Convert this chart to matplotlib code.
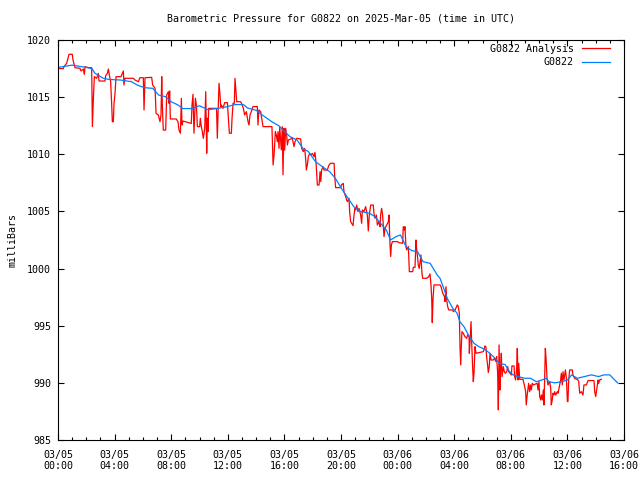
import matplotlib
matplotlib.use('Agg')
import matplotlib.pyplot as plt
from matplotlib.ticker import MultipleLocator

# hours since 2025-03-05 00:00 UTC, pressure in mb
blue_hours = [0.0, 0.5, 1.0, 1.5, 2.0, 2.4, 2.6, 3.2, 3.6, 4.4, 5.2, 5.6, 6.1, 6.7, 7.1,
              7.6, 8.0, 8.5, 8.8, 9.5, 10.0, 10.6, 11.2, 11.9, 12.5, 13.1, 13.4, 14.0,
              14.5, 15.1, 15.6, 16.0, 16.4, 16.9, 17.3, 17.7, 18.2, 18.7, 19.2, 19.6,
              20.1, 20.5, 20.9, 21.4, 22.0, 22.4, 22.8, 23.2, 23.5, 23.9, 24.2, 24.6,
              25.0, 25.4, 25.6, 25.8, 26.3, 26.8, 27.0, 27.3, 27.5, 27.9, 28.2, 28.4,
              28.7, 29.0, 29.4, 29.7, 30.2, 30.5, 30.9, 31.2, 31.6, 31.9, 32.15, 32.5,
              33.0, 33.4, 33.8, 34.2, 34.5, 34.7, 35.1, 35.6, 36.0, 36.3, 36.7, 37.2,
              37.7, 38.2, 38.6, 39.0, 39.3, 39.55]
blue_mb = [1017.6, 1017.7, 1017.8, 1017.7, 1017.6, 1017.5, 1017.1, 1016.65, 1016.55,
           1016.5, 1016.35, 1016.06, 1015.83, 1015.77, 1015.19, 1015.04, 1014.6, 1014.3,
           1014.0, 1014.0, 1014.25, 1013.9, 1014.0, 1014.15, 1014.35, 1014.35, 1014.05,
           1013.85, 1013.38, 1012.86, 1012.5, 1012.0, 1011.54, 1011.25, 1010.52, 1010.23,
           1009.35, 1008.9, 1008.48, 1007.9, 1006.88, 1006.15, 1005.42, 1004.98, 1004.85,
           1004.54, 1003.96, 1003.38, 1002.5, 1002.8, 1002.94, 1001.92, 1001.57, 1001.5,
           1001.04, 1000.6, 1000.46, 999.44, 999.15, 998.13, 997.4, 996.53, 996.1, 995.35,
           994.9, 994.2, 993.46, 993.2, 992.9, 992.6, 992.15, 991.7, 991.6, 991.0, 990.7,
           990.55, 990.4, 990.4, 990.1, 990.25, 990.4, 990.1, 990.0, 990.1, 990.25, 990.7,
           990.4, 990.55, 990.7, 990.55, 990.7, 990.7, 990.3, 990.0]

red_hours = [
    0.0, 0.38, 0.42, 0.61, 0.78, 1.01, 1.06, 1.2, 1.55, 1.63, 1.79, 1.86, 1.91, 2.14, 2.38,
    2.43, 2.5, 2.57, 2.73, 2.85, 2.9, 3.32, 3.37, 3.49, 3.56, 3.63, 3.72, 3.79, 3.84, 3.91,
    3.96, 4.03, 4.1, 4.45, 4.55, 4.62, 4.66, 4.73, 5.32, 5.44, 5.68, 5.79, 6.03, 6.08, 6.15,
    6.62, 6.69, 6.86, 6.93, 7.09, 7.21, 7.28, 7.33, 7.37, 7.44, 7.61, 7.68, 7.8, 7.85, 7.89,
    7.94, 8.36, 8.48, 8.55, 8.65, 8.72, 8.76, 8.83, 9.42, 9.47, 9.54, 9.61, 9.71, 9.78, 9.85,
    10.01, 10.06, 10.13, 10.2, 10.27, 10.37, 10.44, 10.51, 10.55, 10.6, 10.65, 11.19, 11.21,
    11.26, 11.31, 11.38, 11.45, 11.5, 11.55, 11.66, 11.78, 11.97, 12.04, 12.11, 12.25, 12.3,
    12.37, 12.46, 12.51, 12.56, 12.63, 12.91, 13.0, 13.1, 13.19, 13.31, 13.43, 13.5, 13.57,
    13.66, 13.78, 14.09, 14.13, 14.2, 14.32, 14.49, 15.12, 15.2, 15.27, 15.36, 15.43, 15.5,
    15.55, 15.62, 15.67, 15.78, 15.85, 15.9, 15.97, 16.02, 16.09, 16.16, 16.21, 16.28, 16.56,
    16.61, 16.68, 16.75, 16.87, 17.15, 17.22, 17.33, 17.43, 17.5, 17.55, 17.62, 17.69, 17.79,
    17.86, 17.98, 18.09, 18.16, 18.23, 18.28, 18.33, 18.45, 18.52, 18.57, 18.63, 18.73, 18.8,
    19.03, 19.15, 19.27, 19.51, 19.55, 19.62, 19.98, 20.02, 20.16, 20.21, 20.33, 20.4, 20.45,
    20.57, 20.61, 20.68, 20.85, 20.92, 20.99, 21.04, 21.11, 21.2, 21.27, 21.39, 21.46, 21.51,
    21.62, 21.74, 21.86, 21.93, 22.0, 22.1, 22.28, 22.33, 22.4, 22.5, 22.57, 22.69, 22.76,
    22.8, 22.87, 22.94, 23.04, 23.11, 23.23, 23.35, 23.39, 23.46, 23.51, 23.56, 23.63, 23.98,
    24.1, 24.36, 24.4, 24.48, 24.52, 24.59, 24.64, 24.76, 24.83, 25.07, 25.11, 25.23, 25.3,
    25.35, 25.42, 25.46, 25.53, 25.58, 25.65, 25.72, 25.77, 26.05, 26.2, 26.29, 26.36, 26.41,
    26.45, 26.5, 26.57, 27.0, 27.07, 27.19, 27.31, 27.35, 27.42, 27.47, 27.54, 27.61, 27.89,
    27.94, 28.06, 28.17, 28.22, 28.29, 28.36, 28.41, 28.46, 28.5, 28.55, 28.64, 28.76, 28.88,
    28.95, 29.05, 29.07, 29.12, 29.19, 29.23, 29.3, 29.35, 29.4, 29.47, 29.54, 30.06, 30.1,
    30.17, 30.24, 30.29, 30.36, 30.41, 30.48, 30.53, 30.6, 30.77, 30.84, 30.95, 31.0, 31.07,
    31.12, 31.17, 31.24, 31.28, 31.33, 31.38, 31.47, 31.54, 31.61, 31.71, 31.78, 31.85, 32.04,
    32.08, 32.23, 32.27, 32.34, 32.41, 32.46, 32.51, 32.56, 32.63, 32.86, 32.98, 33.05, 33.09,
    33.16, 33.26, 33.33, 33.4, 33.45, 33.52, 33.59, 33.87, 33.92, 33.99, 34.04, 34.11, 34.16,
    34.23, 34.3, 34.34, 34.39, 34.44, 34.49, 34.56, 34.63, 34.75, 34.82, 34.86, 34.93, 34.98,
    35.05, 35.1, 35.17, 35.29, 35.34, 35.45, 35.52, 35.57, 35.64, 35.69, 35.76, 35.86, 35.93,
    36.0, 36.04, 36.09, 36.16, 36.35, 36.39, 36.51, 36.75, 36.8, 36.87, 36.99, 37.1, 37.17,
    37.34, 37.46, 37.88, 37.93, 38.0, 38.07, 38.17, 38.21, 38.28, 38.4]
red_mb = [
    1017.5, 1017.5, 1017.66, 1017.96, 1018.75, 1018.75, 1018.25, 1017.58, 1017.52, 1017.29,
    1017.46, 1016.99, 1017.67, 1017.58, 1017.58, 1012.42, 1014.9, 1016.79, 1016.65, 1017.08,
    1016.41, 1016.41, 1016.88, 1017.08, 1017.46, 1016.94, 1016.35, 1014.46, 1012.85, 1012.85,
    1014.46, 1015.33, 1016.79, 1016.79, 1017.08, 1017.29, 1016.06, 1016.65, 1016.65, 1016.5,
    1016.35, 1016.7, 1016.7, 1013.88, 1016.7, 1016.73, 1016.06, 1015.77, 1013.58, 1013.44,
    1012.85, 1013.44, 1016.79, 1014.46, 1012.12, 1012.12, 1015.19, 1015.48, 1014.46, 1015.54,
    1013.09, 1013.09, 1012.85, 1012.13, 1011.84, 1014.9, 1012.56, 1012.91, 1012.7, 1014.31,
    1015.25, 1011.84, 1014.9, 1014.31, 1012.42, 1012.42, 1013.15, 1012.42, 1011.98, 1011.4,
    1012.27, 1015.48, 1010.09, 1013.15, 1011.98, 1014.02, 1014.02, 1013.73, 1011.4, 1013.58,
    1016.21, 1015.19, 1014.17, 1014.31, 1014.02, 1014.52, 1014.52, 1013.15, 1011.84, 1011.84,
    1013.15, 1014.46, 1014.46, 1016.65, 1015.77, 1014.6, 1014.6, 1014.37, 1014.02, 1013.44,
    1013.73, 1012.85, 1012.56, 1013.44, 1013.73, 1014.17, 1014.17, 1012.56, 1013.88, 1013.73,
    1012.42, 1012.42, 1009.07, 1009.94, 1011.98, 1011.69, 1011.1, 1011.98, 1010.52, 1012.42,
    1010.38, 1012.42, 1008.2, 1012.27, 1010.37, 1012.27, 1011.69, 1010.81, 1011.25, 1011.4,
    1011.1, 1010.67, 1011.1, 1011.4, 1011.34, 1010.52, 1010.23, 1010.52, 1009.64, 1008.62,
    1009.06, 1009.79, 1010.08, 1009.94, 1010.08, 1009.79, 1010.17, 1009.36, 1008.33, 1007.31,
    1007.31, 1008.48, 1007.61, 1008.62, 1008.92, 1008.62, 1008.62, 1009.06, 1009.21, 1009.21,
    1008.18, 1007.08, 1007.08, 1007.31, 1007.46, 1006.73, 1006.29, 1006.0, 1005.85, 1006.15,
    1004.98, 1004.11, 1003.76, 1004.69, 1005.27, 1005.13, 1005.56, 1004.98, 1005.27, 1004.69,
    1003.96, 1005.13, 1004.98, 1005.42, 1004.69, 1003.29, 1004.69, 1005.56, 1005.56, 1004.83,
    1004.4, 1004.69, 1003.81, 1004.11, 1003.67, 1004.69, 1005.27, 1004.69, 1002.8, 1003.52,
    1003.81, 1004.11, 1004.69, 1002.21, 1001.05, 1002.06, 1002.36, 1002.36, 1002.27, 1002.21,
    1003.67, 1003.38, 1003.67, 1001.92, 1001.63, 1001.92, 999.73, 999.73, 1000.11, 1000.11,
    1002.5, 1001.63, 1000.9, 1000.31, 1000.02, 1000.46, 1001.19, 999.59, 999.15, 999.15,
    999.29, 999.53, 998.57, 997.4, 995.27, 997.25, 998.57, 998.57, 998.42, 997.84, 997.54,
    997.11, 998.42, 997.25, 996.67, 996.38, 996.38, 996.23, 996.38, 996.67, 996.82, 996.67,
    996.09, 993.17, 991.56, 993.17, 994.48, 994.34, 994.04, 993.9, 994.19, 994.04, 992.59,
    993.61, 995.36, 993.75, 991.42, 990.11, 990.84, 993.17, 992.59, 992.73, 992.88, 993.23,
    993.17, 992.29, 991.56, 990.9, 991.42, 992.59, 992.0, 992.0, 992.15, 991.86, 992.29,
    990.84, 987.63, 993.32, 989.38, 991.42, 992.59, 990.55, 991.42, 990.98, 990.84, 990.98,
    991.42, 990.98, 990.69, 991.48, 991.48, 990.55, 990.25, 991.13, 993.02, 990.25, 991.71,
    990.31, 990.31, 989.67, 989.23, 988.07, 988.94, 989.96, 989.23, 989.82, 989.38, 989.96,
    989.82, 989.96, 989.38, 990.11, 988.8, 988.5, 988.94, 988.5, 989.38, 988.07, 990.25,
    993.02, 992.15, 990.4, 989.82, 990.11, 989.53, 988.07, 988.5, 989.09, 988.94, 989.23,
    988.94, 989.23, 989.09, 989.82, 990.25, 990.84, 989.82, 990.98, 990.25, 991.13, 990.4,
    988.36, 988.36, 990.25, 991.13, 991.13, 990.69, 990.4, 990.25, 990.11, 989.09, 989.23,
    988.94, 989.82, 989.82, 990.2, 990.2, 989.23, 988.8, 989.38, 990.25, 989.96, 990.25,
    990.31]

tick_hours = [0, 4, 8, 12, 16, 20, 24, 28, 32, 36, 40]
tick_labels = ['03/05\n00:00', '03/05\n04:00', '03/05\n08:00', '03/05\n12:00',
               '03/05\n16:00', '03/05\n20:00', '03/06\n00:00', '03/06\n04:00',
               '03/06\n08:00', '03/06\n12:00', '03/06\n16:00']

plt.rcParams['font.family'] = ['DejaVu Sans Mono']
plt.rcParams['font.size'] = 7.2

fig = plt.figure(figsize=(6.4, 4.8), dpi=100)
ax = fig.add_axes([58/640, 40/480, 566/640, 400/480])

ax.plot(red_hours, red_mb, color='#ff0000', lw=0.9, label='G0822 Analysis')
ax.plot(blue_hours, blue_mb, color='#0080ff', lw=0.9, label='G0822')

ax.set_xlim(0, 40)
ax.set_ylim(985, 1020)
ax.set_xticks(tick_hours)
ax.set_xticklabels(tick_labels)
ax.xaxis.set_minor_locator(MultipleLocator(1))
ax.yaxis.set_major_locator(MultipleLocator(5))
ax.tick_params(which='both', direction='in', top=True, right=True, width=0.8)
ax.tick_params(which='major', length=4.5)
ax.tick_params(which='minor', length=2.5)
ax.tick_params(axis='x', pad=7)
ax.tick_params(axis='y', pad=5)
for s in ax.spines.values():
    s.set_linewidth(0.8)

ax.set_ylabel('milliBars', labelpad=7)
ax.set_title('Barometric Pressure for G0822 on 2025-Mar-05 (time in UTC)',
             fontsize=7.2, pad=13)

ax.legend(loc='upper right', bbox_to_anchor=(0.982, 1.0), frameon=False,
          markerfirst=False, handlelength=2.8, borderaxespad=0.0,
          labelspacing=0.35, handletextpad=0.8)

fig.savefig('out.png', dpi=100)
